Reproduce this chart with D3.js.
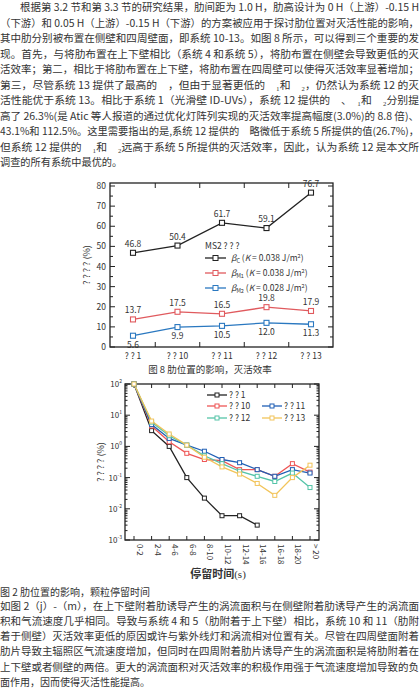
<!DOCTYPE html><html><head><meta charset="utf-8">
<script src="https://cdn.jsdelivr.net/npm/d3@7"></script>
<style>body{margin:0;background:#fff}svg{display:block}text{font-family:"Noto Sans CJK SC","Liberation Serif",serif;fill:#333}</style>
</head><body><svg id="s" width="420" height="694"></svg><script>
const topLines=["根据第 3.2 节和第 3.3 节的研究结果，肋间距为 1.0 H，肋高设计为 0 H（上游）-0.15 H","（下游）和 0.05 H（上游）-0.15 H（下游）的方案被应用于探讨肋位置对灭活性能的影响，","其中肋分别被布置在侧壁和四周壁面，即系统 10-13。如图 8 所示，可以得到三个重要的发","现。首先，与将肋布置在上下壁相比（系统 4 和系统 5），将肋布置在侧壁会导致更低的灭","活效率；第二，相比于将肋布置在上下壁，将肋布置在四周壁可以使得灭活效率显著增加；","第三，尽管系统 13 提供了最高的　，但由于显著更低的　₁和　₂，仍然认为系统 12 的灭","活性能优于系统 13。相比于系统 1（光滑壁 ID-UVs），系统 12 提供的　、　₁和　₂分别提","高了 26.3%(是 Atic 等人报道的通过优化灯阵列实现的灭活效率提高幅度(3.0%)的 8.8 倍)、","43.1%和 112.5%。这里需要指出的是,系统 12 提供的　略微低于系统 5 所提供的值(26.7%)，","但系统 12 提供的　₁和　₂远高于系统 5 所提供的灭活效率，因此，认为系统 12 是本文所","调查的所有系统中最优的。"];
const botLines=["如图 2（j）-（m），在上下壁附着肋诱导产生的涡流面积与在侧壁附着肋诱导产生的涡流面","积和气流速度几乎相同。导致与系统 4 和 5（肋附着于上下壁）相比，系统 10 和 11（肋附","着于侧壁）灭活效率更低的原因或许与紫外线灯和涡流相对位置有关。尽管在四周壁面附着","肋片导致主辐照区气流速度增加，但同时在四周附着肋片诱导产生的涡流面积是将肋附着在","上下壁或者侧壁的两倍。更大的涡流面积对灭活效率的积极作用强于气流速度增加导致的负","面作用，因而使得灭活性能提高。"];
const cats1=["? ? 1","? ? 10","? ? 11","? ? 12","? ? 13"];
const betaC=[46.8,50.4,61.7,59.1,76.7];
const betaM1=[13.7,17.5,16.5,19.8,17.9];
const betaM2=[5.6,9.9,10.5,12.0,11.3];
const yTicks1=[0,10,20,30,40,50,60,70,80];
const cats2=["0-2","2-4","4-6","6-8","8-10","10-12","12-14","14-16","16-18","18-20","> 20"];
const sys1=[100,3.2,1.0,0.1,0.022,0.006,0.006,0.003];
const sys10=[100,4.5,1.4,0.6,0.38,0.35,0.18,0.18,0.11,0.28,0.15];
const sys11=[100,5,1.8,1.1,0.7,0.38,0.3,0.18,0.11,0.18,0.14];
const sys12=[100,6,2.2,1.1,0.5,0.28,0.16,0.11,0.075,0.14,0.048];
const sys13=[100,6.5,2.5,1.1,0.45,0.22,0.13,0.065,0.027,0.1,0.25];
const svg=d3.select("#s");
function para(lines,y0,dy,fs,indent){
 lines.forEach((t,i)=>{const x=i==0?indent:0;const el=svg.append("text").attr("x",x).attr("y",y0+i*dy).attr("font-size",fs).text(t);
  if(i<lines.length-1){el.attr("textLength",419-x).attr("lengthAdjust","spacingAndGlyphs");}});
}
para(topLines,11,15.5,10.2,20);
svg.append("text").attr("x",0).attr("y",596).attr("font-size",10).text("图 2 肋位置的影响，颗粒停留时间");
para(botLines,609.5,15.3,10,0);
// chart 1
const L1=110,R1=333,T1=183,B1=347;
const x1=d3.scalePoint().domain(cats1).range([133,311]);
const y1=d3.scaleLinear().domain([0,80]).range([B1,186]);
const g1=svg.append("g");
g1.append("rect").attr("x",L1).attr("y",T1).attr("width",R1-L1).attr("height",B1-T1).attr("fill","none").attr("stroke","#222").attr("stroke-width",1.3);
yTicks1.forEach(v=>{const y=y1(v);g1.append("line").attr("x1",L1).attr("x2",L1+5).attr("y1",y).attr("y2",y).attr("stroke","#222");
 g1.append("line").attr("x1",R1).attr("x2",R1-5).attr("y1",y).attr("y2",y).attr("stroke","#222");
 g1.append("text").attr("x",L1-4).attr("y",y+3).attr("text-anchor","end").attr("font-size",8.5).attr("font-family","Liberation Serif").text(v);
 if(v<80){const ym=y1(v+5);[L1,R1].forEach(xx=>g1.append("line").attr("x1",xx).attr("x2",xx==L1?xx+3:xx-3).attr("y1",ym).attr("y2",ym).attr("stroke","#222"));}});
const st=x1.step();
for(let i=0;i<4;i++){const xx=x1(cats1[i])+st/2;[[B1,-5],[T1,5]].forEach(([yy,d])=>g1.append("line").attr("x1",xx).attr("x2",xx).attr("y1",yy).attr("y2",yy+d).attr("stroke","#222"));}
cats1.forEach(c=>g1.append("text").attr("x",x1(c)).attr("y",B1+12).attr("text-anchor","middle").attr("font-size",8.5).attr("font-family","Liberation Serif").text(c));
g1.append("text").attr("transform",`translate(90,265) rotate(-90)`).attr("text-anchor","middle").attr("font-size",9).attr("font-family","Liberation Serif").text("? ? ? ?   (%)");
const ser1=[[betaC,"#222",-6],[betaM1,"#e05a5e",-6],[betaM2,"#2a78c0",12]];
ser1.forEach(([d,c,off])=>{
 g1.append("path").attr("d",d3.line().x((v,i)=>x1(cats1[i])).y(v=>y1(v))(d)).attr("fill","none").attr("stroke",c).attr("stroke-width",1.3);
 d.forEach((v,i)=>{g1.append("rect").attr("x",x1(cats1[i])-2.5).attr("y",y1(v)-2.5).attr("width",5).attr("height",5).attr("fill","#fff").attr("stroke",c).attr("stroke-width",1.1);
  g1.append("text").attr("x",x1(cats1[i])).attr("y",y1(v)+off).attr("text-anchor","middle").attr("font-size",8.5).attr("font-family","Liberation Serif").text(v.toFixed(1));});
});
g1.append("text").attr("x",205).attr("y",249).attr("font-size",8.5).attr("font-family","Liberation Serif").text("MS2 ? ? ?");
const leg1=[["#222","C","0.038"],["#e05a5e","M1","0.038"],["#2a78c0","M2","0.028"]];
leg1.forEach(([c,sub,k],i)=>{const y=258+i*15;
 g1.append("line").attr("x1",205).attr("x2",226).attr("y1",y).attr("y2",y).attr("stroke",c).attr("stroke-width",1.3);
 g1.append("rect").attr("x",213).attr("y",y-2.5).attr("width",5).attr("height",5).attr("fill","#fff").attr("stroke",c);
 const t=g1.append("text").attr("x",231).attr("y",y+3).attr("font-size",8.5).attr("font-family","Liberation Serif");
 t.append("tspan").attr("font-style","italic").text("β");t.append("tspan").attr("font-size",5.5).attr("dy",2).text(sub);
 t.append("tspan").attr("dy",-2).text("  (");t.append("tspan").attr("font-style","italic").text("K");t.append("tspan").text(" = "+k+" J/m");
 t.append("tspan").attr("font-size",5.5).attr("dy",-3).text("2");t.append("tspan").attr("dy",3).text(")");});
svg.append("text").attr("x",210).attr("y",373).attr("text-anchor","middle").attr("font-size",9.5).text("图 8  肋位置的影响，灭活效率");
// chart 2
const L2=125,R2=319,T2=384,B2=540;
const x2=d3.scalePoint().domain(cats2).range([134,310]);
const y2=d3.scaleLog().domain([1e-3,100]).range([B2,T2]);
const g2=svg.append("g");
g2.append("rect").attr("x",L2).attr("y",T2).attr("width",R2-L2).attr("height",B2-T2).attr("fill","none").attr("stroke","#222").attr("stroke-width",1.3);
for(let e=-3;e<=2;e++){const y=y2(Math.pow(10,e));
 [L2,R2].forEach(xx=>g2.append("line").attr("x1",xx).attr("x2",xx==L2?xx+5:xx-5).attr("y1",y).attr("y2",y).attr("stroke","#222"));
 const t=g2.append("text").attr("x",L2-3).attr("y",y+3).attr("text-anchor","end").attr("font-size",8).attr("font-family","Liberation Serif");
 t.append("tspan").text("10");t.append("tspan").attr("font-size",5).attr("dy",-4).text(e);
 if(e<2)for(let m=2;m<10;m++){const ym=y2(m*Math.pow(10,e));[L2,R2].forEach(xx=>g2.append("line").attr("x1",xx).attr("x2",xx==L2?xx+2.5:xx-2.5).attr("y1",ym).attr("y2",ym).attr("stroke","#222"));}}
cats2.forEach(c=>{const xx=x2(c);[[B2,-4],[T2,4]].forEach(([yy,d])=>g2.append("line").attr("x1",xx).attr("x2",xx).attr("y1",yy).attr("y2",yy+d).attr("stroke","#222"));
 g2.append("text").attr("transform",`translate(${xx+3},${B2+4}) rotate(90)`).attr("font-size",8).attr("font-family","Liberation Serif").text(c);});
g2.append("text").attr("transform",`translate(104,462) rotate(-90)`).attr("text-anchor","middle").attr("font-size",9).attr("font-family","Liberation Serif").text("? ? ? ?   (%)");
g2.append("text").attr("x",218).attr("y",578).attr("text-anchor","middle").attr("font-size",11).attr("font-weight","bold").text("停留时间").append("tspan").attr("font-weight","normal").attr("font-family","Liberation Serif").text("(s)");
const ser2=[[sys1,"#222","? ? 1",207,395],[sys10,"#ee5555","? ? 10",207,406],[sys11,"#1f5fb5","? ? 11",262,406],[sys12,"#55c4a8","? ? 12",207,418],[sys13,"#f2c45a","? ? 13",262,418]];
ser2.forEach(([d,c])=>{g2.append("path").attr("d",d3.line().x((v,i)=>x2(cats2[i])).y(v=>y2(v))(d)).attr("fill","none").attr("stroke",c).attr("stroke-width",1.3);});
ser2.forEach(([d,c,lab,lx,ly])=>{
 d.forEach((v,i)=>g2.append("rect").attr("x",x2(cats2[i])-2).attr("y",y2(v)-2).attr("width",4).attr("height",4).attr("fill","#fff").attr("stroke",c));
 g2.append("line").attr("x1",lx).attr("x2",lx+20).attr("y1",ly).attr("y2",ly).attr("stroke",c).attr("stroke-width",1.3);
 g2.append("rect").attr("x",lx+8).attr("y",ly-2).attr("width",4).attr("height",4).attr("fill","#fff").attr("stroke",c);
 g2.append("text").attr("x",lx+22).attr("y",ly+3).attr("font-size",8.5).attr("font-family","Liberation Serif").text(lab);});
</script></body></html>
